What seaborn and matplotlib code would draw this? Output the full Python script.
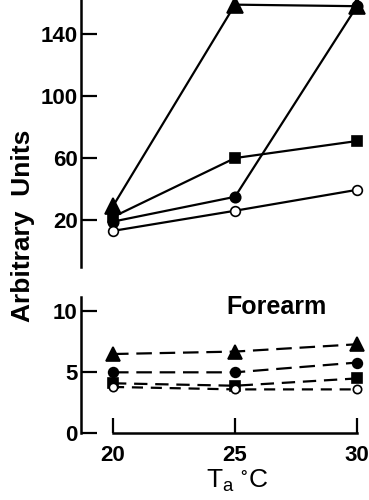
import numpy as np
import pandas as pd
import matplotlib
matplotlib.use("Agg")
import matplotlib.pyplot as plt
import seaborn as sns

sns.set_theme(style="white")
plt.rcParams['font.family'] = ['Liberation Sans', 'DejaVu Sans']
plt.rcParams['mathtext.default'] = 'regular'

# Data
ta = [20, 25, 30]
series = ["triangle", "filled_circle", "square", "open_circle"]
# upper panel (solid lines)
upper_triangle = [29, 159, 158]
upper_filled_circle = [19, 35, 158]
upper_square = [22, 60, 71]
upper_open_circle = [13, 26, 39.5]
# lower panel "Forearm" (dashed lines)
lower_triangle = [6.5, 6.7, 7.3]
lower_filled_circle = [5.0, 5.0, 5.8]
lower_square = [4.1, 3.9, 4.5]
lower_open_circle = [3.8, 3.6, 3.6]

upper_ticks = [20, 60, 100, 140]
lower_ticks = [0, 5, 10]
x_ticks = [20, 25, 30]

upper = {"triangle": upper_triangle, "filled_circle": upper_filled_circle,
         "square": upper_square, "open_circle": upper_open_circle}
lower = {"triangle": lower_triangle, "filled_circle": lower_filled_circle,
         "square": lower_square, "open_circle": lower_open_circle}

W, H = 369, 500
fig = plt.figure(figsize=(W / 100, H / 100), dpi=100)

left = 81 / W
ax1 = fig.add_axes([left, 1 - 267 / H, 1 - left, 267 / H])
ax2 = fig.add_axes([left, 1 - 433.3 / H, 1 - left, (433.3 - 296.7) / H])

xlim = (20 - 32 / 24.4, 30 + 12 / 24.4)

mk_upper = {"triangle": dict(marker="^", ms=12, mfc="black"),
            "filled_circle": dict(marker="o", ms=7.5, mfc="black"),
            "square": dict(marker="s", ms=7, mfc="black"),
            "open_circle": dict(marker="o", ms=7, mfc="white")}
mk_lower = {"triangle": dict(marker="^", ms=10, mfc="black"),
            "filled_circle": dict(marker="o", ms=7, mfc="black"),
            "square": dict(marker="s", ms=6.5, mfc="black"),
            "open_circle": dict(marker="o", ms=6, mfc="white")}
dash_lower = {"triangle": (7, 3.5), "filled_circle": (7, 3.5),
              "square": (6, 3.5), "open_circle": (5, 3.5)}

for s in series:
    df = pd.DataFrame({"Ta": ta, "v": upper[s]})
    sns.lineplot(data=df, x="Ta", y="v", ax=ax1, color="black", lw=1.6,
                 mec="black", mew=1.2, clip_on=False, zorder=3, **mk_upper[s])
for s in series:
    df = pd.DataFrame({"Ta": ta, "v": lower[s]})
    sns.lineplot(data=df, x="Ta", y="v", ax=ax2, color="black", lw=1.6,
                 dashes=dash_lower[s], mec="black", mew=1.2, clip_on=False,
                 zorder=3, **mk_lower[s])

# upper axes style
ax1.set_xlim(*xlim)
ax1.set_ylim(-10.3, 162)
for sp in ["top", "right", "bottom"]:
    ax1.spines[sp].set_visible(False)
ax1.spines["left"].set_color("black")
ax1.spines["left"].set_linewidth(1.8)
ax1.set_xticks([])
ax1.set_yticks(upper_ticks)
ax1.tick_params(axis="y", direction="in", length=11.5, width=1.6, pad=2.5,
                labelsize=16, colors="black", left=True)
ax1.set_xlabel("")
ax1.set_ylabel("")

# lower axes style
ax2.set_xlim(*xlim)
ax2.set_ylim(0, 11.2)
for sp in ["top", "right"]:
    ax2.spines[sp].set_visible(False)
for sp in ["left", "bottom"]:
    ax2.spines[sp].set_color("black")
    ax2.spines[sp].set_linewidth(1.8)
ax2.spines["bottom"].set_bounds(20, 30)
ax2.set_xticks(x_ticks)
ax2.set_yticks(lower_ticks)
ax2.tick_params(axis="y", direction="in", length=11.5, width=1.6, pad=2.5,
                labelsize=16, colors="black", left=True)
ax2.tick_params(axis="x", direction="in", length=11, width=1.6, pad=8.5,
                labelsize=16, colors="black", bottom=True)
ax2.set_xlabel("")
ax2.set_ylabel("")
for lab in ax1.get_yticklabels() + ax2.get_yticklabels() + ax2.get_xticklabels():
    lab.set_fontweight("bold")

fig.text(276 / W, 1 - 307 / H, "Forearm", ha="center",
         va="center", fontsize=18, fontweight="bold", color="black")

fig.text(23 / W, 1 - 226 / H, "Arbitrary  Units", rotation=90, ha="center",
         va="center", fontsize=19, fontweight="bold", color="black")
fig.text(237 / W, 1 - 481 / H, r"T$_\mathregular{a}$ $^{\circ}$C", ha="center",
         va="center", fontsize=19, color="black")

fig.savefig("out.png", dpi=100, facecolor="white")
